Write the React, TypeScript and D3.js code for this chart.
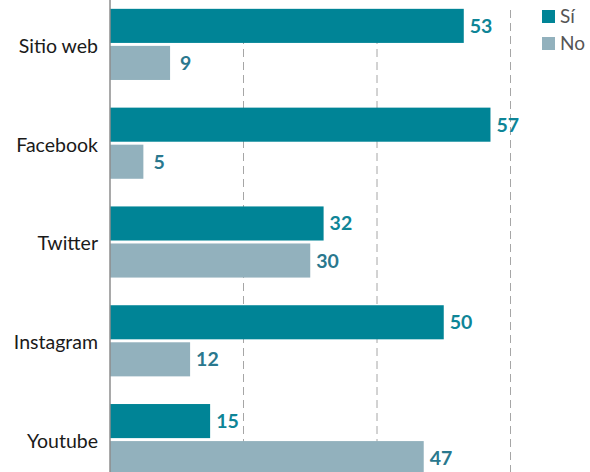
import React, { useEffect, useRef } from 'react';
import * as d3 from 'd3';

// Data
const categories = ['Sitio web', 'Facebook', 'Twitter', 'Instagram', 'Youtube'];
const series = ['Sí', 'No'];
const siValues = [53, 57, 32, 50, 15];
const noValues = [9, 5, 30, 12, 47];
const gridTicks = [20, 40, 60];

const colors: Record<string, string> = { 'Sí': '#008496', 'No': '#92b1bd' };
const labelColors: Record<string, string> = { 'Sí': '#0e8597', 'No': '#2a788e' };

const W = 590;
const H = 472;

const App: React.FC = () => {
  const svgRef = useRef<SVGSVGElement>(null);

  useEffect(() => {
    if (!svgRef.current) return;
    const svg = d3.select(svgRef.current);
    svg.selectAll('*').remove();

    const font = 'Lato, "Open Sans", sans-serif';
    const left = 110;

    const x = d3.scaleLinear().domain([0, 60]).range([left, 510.5]);

    const y = d3.scaleBand()
      .domain(categories)
      .range([-5, 489])
      .paddingInner(0.28)
      .paddingOuter(0.14);

    const ySub = d3.scaleBand()
      .domain(series)
      .range([0, y.bandwidth()])
      .paddingInner(0.08);

    const rows = categories.map((c, i) => ({
      category: c,
      values: [
        { key: 'Sí', value: siValues[i] },
        { key: 'No', value: noValues[i] },
      ],
    }));

    // Gridlines
    svg.append('g')
      .selectAll('line')
      .data(gridTicks)
      .enter()
      .append('line')
      .attr('x1', d => x(d))
      .attr('x2', d => x(d))
      .attr('y1', 10)
      .attr('y2', H)
      .attr('stroke', '#a6a6a6')
      .attr('stroke-width', 1)
      .attr('stroke-dasharray', '8,5');

    // Bars
    const groups = svg.append('g')
      .selectAll('g')
      .data(rows)
      .enter()
      .append('g')
      .attr('transform', d => `translate(0,${y(d.category)})`);

    groups.selectAll('rect')
      .data(d => d.values)
      .enter()
      .append('rect')
      .attr('x', x(0))
      .attr('y', d => ySub(d.key) || 0)
      .attr('width', d => x(d.value) - x(0))
      .attr('height', ySub.bandwidth())
      .attr('fill', d => colors[d.key]);

    groups.selectAll('text')
      .data(d => d.values)
      .enter()
      .append('text')
      .attr('x', d => x(d.value) + (d.value < 10 ? 10 : 6))
      .attr('y', d => (ySub(d.key) || 0) + ySub.bandwidth() / 2)
      .attr('dy', '0.36em')
      .attr('font-family', font)
      .attr('font-size', 19.5)
      .attr('font-weight', 'bold')
      .attr('fill', d => labelColors[d.key])
      .text(d => d.value);

    // Category labels
    svg.append('g')
      .selectAll('text')
      .data(categories)
      .enter()
      .append('text')
      .attr('x', 98)
      .attr('y', d => (y(d) || 0) + y.bandwidth() / 2 + 1.5)
      .attr('dy', '0.35em')
      .attr('text-anchor', 'end')
      .attr('font-family', font)
      .attr('font-size', 19.5)
      .attr('fill', '#1a1a1a')
      .text(d => d);

    // Axis line
    svg.append('line')
      .attr('x1', left)
      .attr('x2', left)
      .attr('y1', 0)
      .attr('y2', H)
      .attr('stroke', '#8c8c8c')
      .attr('stroke-width', 1.5);

    // Legend
    const legend = svg.append('g').attr('transform', 'translate(542,10)');
    const items = legend.selectAll('g')
      .data(series)
      .enter()
      .append('g')
      .attr('transform', (_d, i) => `translate(0,${i * 27})`);
    items.append('rect')
      .attr('width', 13)
      .attr('height', 13)
      .attr('fill', d => colors[d]);
    items.append('text')
      .attr('x', 18)
      .attr('y', 6.5)
      .attr('dy', '0.35em')
      .attr('font-family', font)
      .attr('font-size', 19)
      .attr('fill', '#555')
      .text(d => d);
  }, []);

  return (
    <svg
      ref={svgRef}
      width={W}
      height={H}
      style={{ display: 'block', position: 'absolute', left: 0, top: 0, background: '#fff' }}
    />
  );
};

export default App;
